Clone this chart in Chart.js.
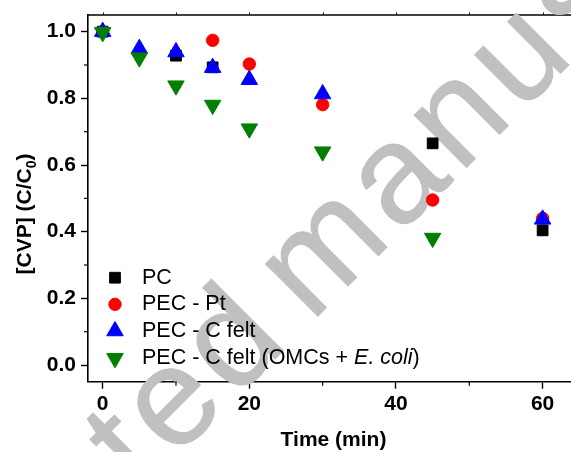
<!DOCTYPE html>
<html>
<head>
<meta charset="utf-8">
<script src="https://cdn.jsdelivr.net/npm/chart.js@4/dist/chart.umd.min.js"></script>
<style>
  html, body { margin: 0; padding: 0; background: #fff; overflow: hidden; }
  #wrap { width: 571px; height: 452px; position: relative; }
</style>
</head>
<body>
<div id="wrap"><canvas id="c" width="571" height="452"></canvas></div>
<script>
// Sampling times (min)
const times = [0, 5, 10, 15, 20, 30, 45, 60];

// Normalised CVP concentration C/C0 for each process (null = not sampled)
const pcValues        = [1.000, null,  0.928, 0.893, null,  null,  0.665, 0.404];
const pecPtValues     = [1.000, null,  null,  0.974, 0.903, 0.781, 0.495, 0.440];
const pecCFeltValues  = [1.000, 0.949, 0.939, 0.892, 0.856, 0.813, null,  0.437];
const pecOmcValues    = [0.998, 0.922, 0.838, 0.780, 0.709, 0.640, 0.381, null];

// Axis ticks
const xTicks = [0, 20, 40, 60];
const xMinorTicks = [10, 30, 50];
const yTicks = [0.0, 0.2, 0.4, 0.6, 0.8, 1.0];
const yMinorTicks = [0.1, 0.3, 0.5, 0.7, 0.9];

// Legend entries (text runs; italic runs flagged)
const legendRuns = [
  [{ t: 'PC' }],
  [{ t: 'PEC - Pt' }],
  [{ t: 'PEC - C felt' }],
  [{ t: 'PEC - C felt (OMCs + ' }, { t: 'E. coli', italic: true }, { t: ')' }]
];

// Diagonal watermark words
const WATERMARK_WORDS = ['Accepted', 'manuscript'];
const FONT = '"Liberation Sans", Arial, Helvetica, sans-serif';

function toPoints(vals) {
  const out = [];
  vals.forEach((v, i) => { if (v !== null) out.push({ x: times[i], y: v }); });
  return out;
}

const seriesStyles = [
  { color: '#000000', pointStyle: 'rect',     radius: 7.6, rotation: 0,   order: 4 },
  { color: '#ff0000', pointStyle: 'circle',   radius: 6.2, rotation: 0,   order: 3 },
  { color: '#0000ff', pointStyle: 'triangle', radius: 9.5, rotation: 0,   order: 2 },
  { color: '#008000', pointStyle: 'triangle', radius: 9.5, rotation: 180, order: 1 }
];
const seriesValues = [pcValues, pecPtValues, pecCFeltValues, pecOmcValues];

const datasets = seriesValues.map((vals, i) => {
  const s = seriesStyles[i];
  return {
    label: legendRuns[i].map(r => r.t).join(''),
    data: toPoints(vals),
    showLine: false,
    pointStyle: s.pointStyle,
    pointRadius: s.radius,
    pointHoverRadius: s.radius,
    pointRotation: s.rotation,
    backgroundColor: s.color,
    borderColor: s.color,
    pointBorderWidth: 1,
    order: s.order
  };
});

function noPad(s) {
  s.paddingLeft = 0; s.paddingRight = 0; s.paddingTop = 0; s.paddingBottom = 0;
}

const decor = {
  id: 'decor',
  beforeDatasetsDraw(chart) {
    const { ctx, chartArea: a, scales: { x } } = chart;
    // top frame line with small ticks
    ctx.save();
    ctx.strokeStyle = '#000';
    ctx.lineWidth = 1.6;
    ctx.beginPath();
    ctx.moveTo(a.left, a.top);
    ctx.lineTo(a.right, a.top);
    ctx.stroke();
    ctx.lineWidth = 1;
    for (let v = 0; v <= 60; v += 10) {
      const px = Math.round(x.getPixelForValue(v)) + 0.5;
      ctx.beginPath();
      ctx.moveTo(px, a.top - 2.5);
      ctx.lineTo(px, a.top);
      ctx.stroke();
    }
    ctx.restore();

    // diagonal watermark text
    ctx.save();
    ctx.font = '140px ' + FONT;
    ctx.letterSpacing = '8px';
    ctx.fillStyle = '#c0c0c0';
    ctx.strokeStyle = '#c0c0c0';
    ctx.lineWidth = 1;
    ctx.lineJoin = 'round';
    ctx.translate(311, 323);
    ctx.rotate(-Math.PI / 4);
    ctx.textBaseline = 'alphabetic';
    ctx.textAlign = 'left';
    ctx.fillText(WATERMARK_WORDS[1], 0, 0);
    ctx.strokeText(WATERMARK_WORDS[1], 0, 0);
    ctx.textAlign = 'right';
    ctx.fillText(WATERMARK_WORDS[0], -22, 0);
    ctx.strokeText(WATERMARK_WORDS[0], -22, 0);
    ctx.restore();
  },
  afterDraw(chart) {
    const { ctx, chartArea: a, scales: { x, y } } = chart;
    ctx.save();
    // minor ticks
    ctx.strokeStyle = '#000';
    ctx.lineWidth = 1.2;
    xMinorTicks.forEach(v => {
      const px = x.getPixelForValue(v);
      ctx.beginPath();
      ctx.moveTo(px, a.bottom);
      ctx.lineTo(px, a.bottom + 4);
      ctx.stroke();
    });
    yMinorTicks.forEach(v => {
      const py = y.getPixelForValue(v);
      ctx.beginPath();
      ctx.moveTo(a.left, py);
      ctx.lineTo(a.left - 4, py);
      ctx.stroke();
    });

    // x title
    ctx.fillStyle = '#000';
    ctx.font = 'bold 21px ' + FONT;
    ctx.textAlign = 'center';
    ctx.textBaseline = 'middle';
    ctx.fillText('Time (min)', (a.left + a.right) / 2 + 4, 440);

    // y title with subscript, rotated
    ctx.save();
    ctx.translate(23, 214);
    ctx.rotate(-Math.PI / 2);
    ctx.textAlign = 'left';
    ctx.textBaseline = 'alphabetic';
    const mainFont = 'bold 21px ' + FONT;
    const subFont = 'bold 14px ' + FONT;
    ctx.font = mainFont;
    const w1 = ctx.measureText('[CVP] (C/C').width;
    const w3 = ctx.measureText(')').width;
    ctx.font = subFont;
    const w2 = ctx.measureText('0').width;
    const total = w1 + w2 + w3;
    let cx = -total / 2;
    const base = 7.5;
    ctx.font = mainFont;
    ctx.fillText('[CVP] (C/C', cx, base);
    cx += w1;
    ctx.font = subFont;
    ctx.fillText('0', cx, base + 5);
    cx += w2;
    ctx.font = mainFont;
    ctx.fillText(')', cx, base);
    ctx.restore();

    // legend
    const rowY = [277.7, 304.3, 331, 358.3];
    legendRuns.forEach((runs, i) => {
      const s = seriesStyles[i];
      ctx.fillStyle = s.color;
      ctx.strokeStyle = s.color;
      ctx.lineWidth = 1;
      Chart.helpers.drawPoint(ctx, {
        pointStyle: s.pointStyle, radius: s.radius, rotation: s.rotation, borderWidth: 1
      }, 115, rowY[i]);
      let tx = 142;
      ctx.fillStyle = '#000';
      ctx.textAlign = 'left';
      ctx.textBaseline = 'middle';
      runs.forEach(r => {
        ctx.font = (r.italic ? 'italic ' : '') + '21.5px ' + FONT;
        ctx.fillText(r.t, tx, rowY[i]);
        tx += ctx.measureText(r.t).width;
      });
    });
    ctx.restore();
  }
};

new Chart(document.getElementById('c'), {
  type: 'scatter',
  data: { datasets },
  options: {
    responsive: false,
    animation: false,
    events: [],
    layout: { autoPadding: false, padding: { top: 15, right: 0, left: 0, bottom: 0 } },
    plugins: { legend: { display: false }, tooltip: { enabled: false } },
    scales: {
      x: {
        type: 'linear',
        min: -2,
        max: 63.87,
        afterBuildTicks: s => { s.ticks = xTicks.map(v => ({ value: v })); },
        afterFit: s => { s.height = 70.3; noPad(s); },
        grid: { drawOnChartArea: false, drawTicks: true, tickLength: 7, tickColor: '#000', tickWidth: 1.4 },
        border: { display: true, color: '#000', width: 1.6 },
        ticks: {
          color: '#000', padding: 3, maxRotation: 0,
          font: { family: FONT, size: 21, weight: 'bold' },
          callback: v => String(v)
        }
      },
      y: {
        type: 'linear',
        min: -0.05,
        max: 1.05,
        afterBuildTicks: s => { s.ticks = yTicks.map(v => ({ value: v })); },
        afterFit: s => { s.width = 88; noPad(s); },
        grid: { drawOnChartArea: false, drawTicks: true, tickLength: 7, tickColor: '#000', tickWidth: 1.4 },
        border: { display: true, color: '#000', width: 1.6 },
        ticks: {
          color: '#000', padding: 5,
          font: { family: FONT, size: 21, weight: 'bold' },
          callback: v => Number(v).toFixed(1)
        }
      }
    }
  },
  plugins: [decor]
});
</script>
</body>
</html>
